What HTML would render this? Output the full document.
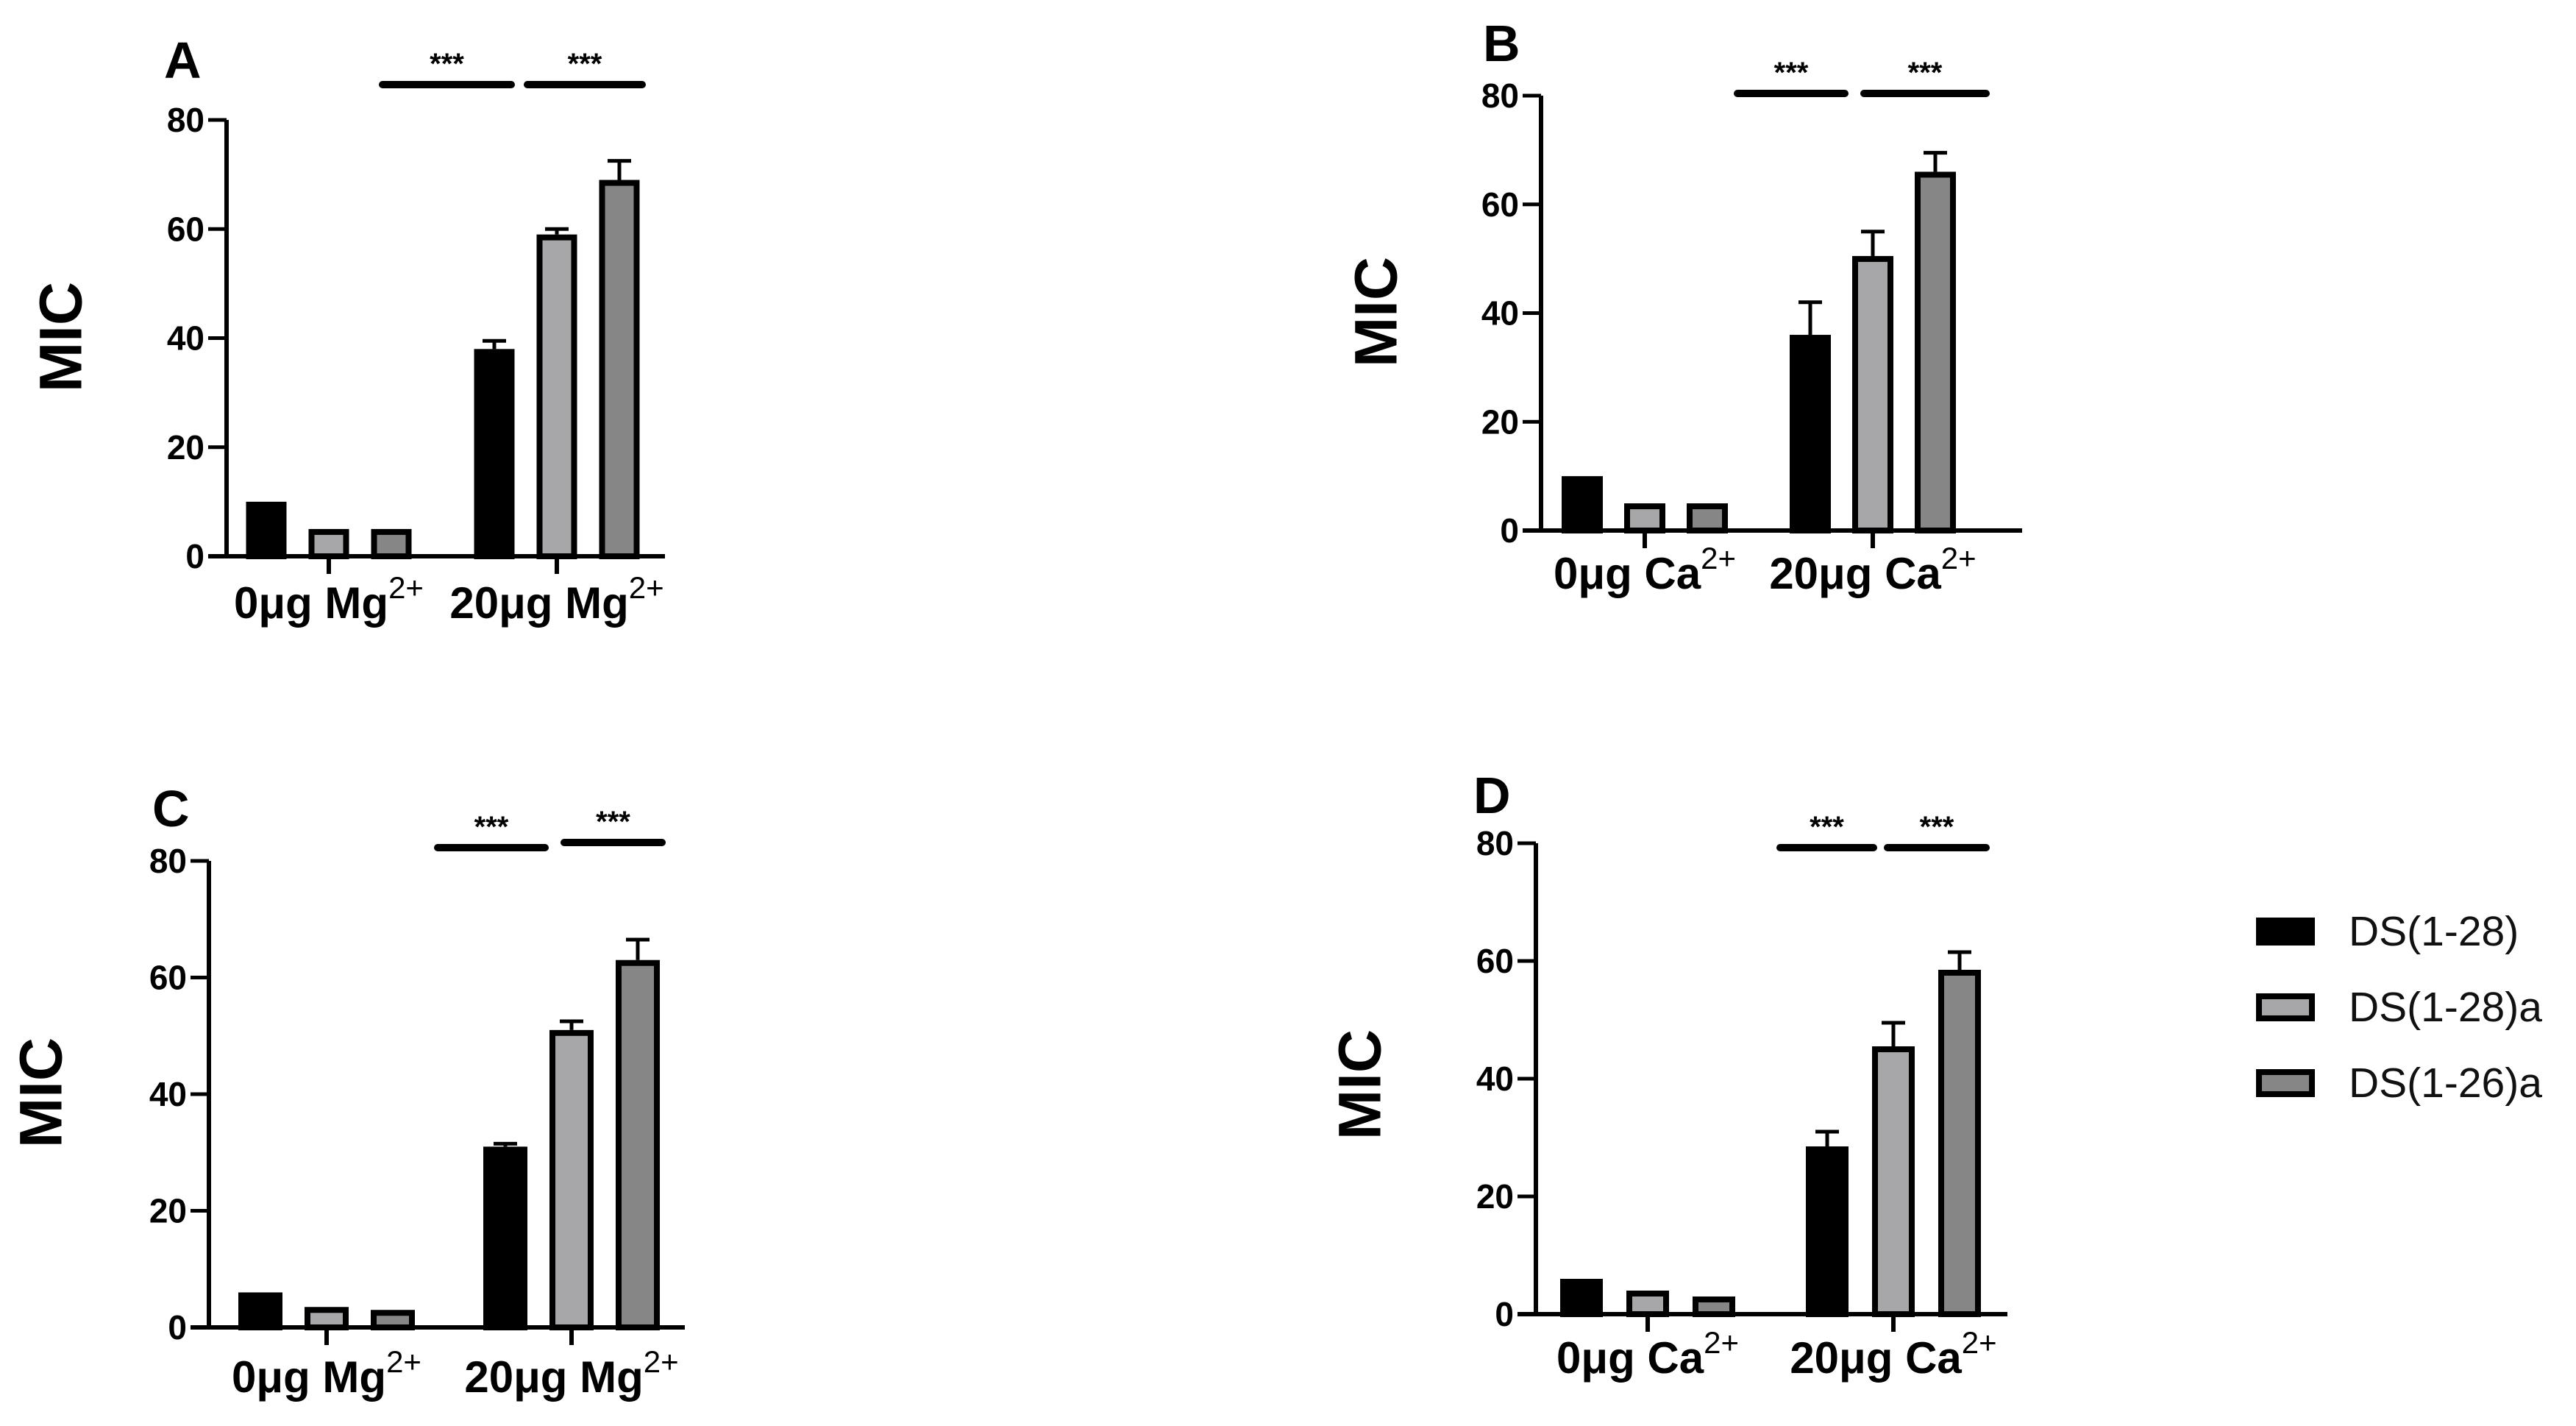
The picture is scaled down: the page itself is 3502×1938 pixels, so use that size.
<!DOCTYPE html>
<html><head><meta charset="utf-8"><style>
html,body{margin:0;padding:0;background:#fff;}
svg{display:block;font-family:"Liberation Sans",Arial,sans-serif;}
</style></head><body>
<svg id="fig" width="3502" height="1938" viewBox="0 0 3502 1938" xmlns="http://www.w3.org/2000/svg">
<rect width="3502" height="1938" fill="#fff"/>
</svg>
<script>
const series = ["DS(1-28)", "DS(1-28)a", "DS(1-26)a"];
const yTicks = [0, 20, 40, 60, 80];
const catsA = ["0μg Mg", "20μg Mg"];
const catsB = ["0μg Ca", "20μg Ca"];
const valsA = [[10, 38], [5, 59], [5, 69]];
const errA  = [[0, 1.5], [0, 1], [0, 3.5]];
const valsB = [[10, 36], [5, 50.5], [5, 66]];
const errB  = [[0, 6], [0, 4.5], [0, 3.5]];
const valsC = [[6, 31], [3.5, 51], [3, 63]];
const errC  = [[0, 0.5], [0, 1.5], [0, 3.5]];
const valsD = [[6, 28.5], [4, 45.5], [3, 58.5]];
const errD  = [[0, 2.5], [0, 4], [0, 3]];
const sigLabel = "***";

const fills = ["#000", "#a7a7a9", "#868686"];
const NS = "http://www.w3.org/2000/svg";
const svg = document.getElementById('fig');
function mk(tag, attrs, parent){const e=document.createElementNS(NS,tag);for(const k in attrs)e.setAttribute(k,attrs[k]);(parent||svg).appendChild(e);return e;}

const panels = [
 {id:"a", letter:"A", cats:catsA, vals:valsA, err:errA, ax:308, y0:756, yTop:163, xr:904, gc:[447,757], sp:85, bw:55, lx:223, ly:106, micx:83, micy:458, laby:840,
  sig:[[520,695,115],[717,873,115]]},
 {id:"b", letter:"B", cats:catsB, vals:valsB, err:errB, ax:2095, y0:721, yTop:130, xr:2749, gc:[2236,2546], sp:85, bw:56, lx:2016, ly:83, micx:1871, micy:424, laby:800,
  sig:[[2362,2508,127],[2534,2700,127]]},
 {id:"c", letter:"C", cats:catsA, vals:valsC, err:errC, ax:284, y0:1804, yTop:1170, xr:931, gc:[444,777], sp:90, bw:60, lx:207, ly:1123, micx:56, micy:1485, laby:1892,
  sig:[[595,741,1152],[767,900,1145]]},
 {id:"d", letter:"D", cats:catsB, vals:valsD, err:errD, ax:2088, y0:1786, yTop:1146, xr:2729, gc:[2240,2574], sp:90, bw:58, lx:2003, ly:1105, micx:1849, micy:1474, laby:1866,
  sig:[[2420,2547,1152],[2566,2700,1152]]}
];

panels.forEach(p=>{
  const g = mk('g',{});
  
  
  const ys = v => p.y0 - (v/80)*(p.y0-p.yTop);
  const t = mk('text',{x:p.lx,y:p.ly,'font-size':70,'font-weight':'bold'},g); t.textContent=p.letter;
   
  const m = mk('text',{x:p.micx,y:p.micy,'font-size':82,'font-weight':'bold','text-anchor':'middle','transform':`rotate(-90 ${p.micx} ${p.micy})`,'dominant-baseline':'central'},g); m.textContent='MIC';
   
  p.cats.forEach((c,ci)=>{
    series.forEach((s,si)=>{
      const v=p.vals[si][ci], e=p.err[si][ci];
      const cx = p.gc[ci] + (si-1)*p.sp;
      const yt = ys(v);
      if(e>0){
        const ye=ys(v+e);
        const l=mk('line',{x1:cx,x2:cx,y1:yt,y2:ye,stroke:'#000','stroke-width':5},g);
         
        mk('line',{x1:cx-16,x2:cx+16,y1:ye,y2:ye,stroke:'#000','stroke-width':5},g);
      }
      const r=mk('rect',{x:cx-p.bw/2+4,y:yt+4,width:p.bw-8,height:Math.max(0,p.y0-yt-4),fill:fills[si],stroke:'#000','stroke-width':8},g);
       
    });
    mk('line',{x1:p.gc[ci],x2:p.gc[ci],y1:p.y0,y2:p.y0+24,stroke:'#000','stroke-width':6},g);
    const lt=mk('text',{x:p.gc[ci],y:p.laby,'font-size':60,'font-weight':'bold','text-anchor':'middle'},g);
     
    const t1=mk('tspan',{},lt); t1.textContent=c;
    const t2=mk('tspan',{dy:-27,'font-size':42,'font-weight':'normal'},lt); t2.textContent='2+';
  });
  const ya=mk('line',{x1:p.ax,x2:p.ax,y1:p.yTop,y2:p.y0+3,stroke:'#000','stroke-width':6},g);
   
  const xa=mk('line',{x1:p.ax-25,x2:p.xr,y1:p.y0,y2:p.y0,stroke:'#000','stroke-width':6},g);
   
  yTicks.forEach(v=>{
    const y=ys(v);
    mk('line',{x1:p.ax-25,x2:p.ax,y1:y,y2:y,stroke:'#000','stroke-width':5},g);
    const tl=mk('text',{x:p.ax-30,y:y+16,'font-size':46,'font-weight':'bold','text-anchor':'end'},g);
    tl.textContent=v;
     
  });
  p.sig.forEach(sb=>{
    const l=mk('line',{x1:sb[0],x2:sb[1],y1:sb[2],y2:sb[2],stroke:'#000','stroke-width':10,'stroke-linecap':'round'},g);
     
    const st=mk('text',{x:(sb[0]+sb[1])/2,y:sb[2]-15,'font-size':40,'font-weight':'bold','text-anchor':'middle'},g);
    st.textContent=sigLabel;
     
  });
});

const lg=mk('g',{});
 
series.forEach((s,i)=>{
  const y=1247+i*103;
  const r=mk('rect',{x:3071,y:y+4,width:72,height:30,fill:fills[i],stroke:'#000','stroke-width':8},lg);
   
  const t=mk('text',{x:3193,y:y+38,'font-size':57,fill:'#111'},lg);
  t.textContent=s;
   
});
</script>
</body></html>
